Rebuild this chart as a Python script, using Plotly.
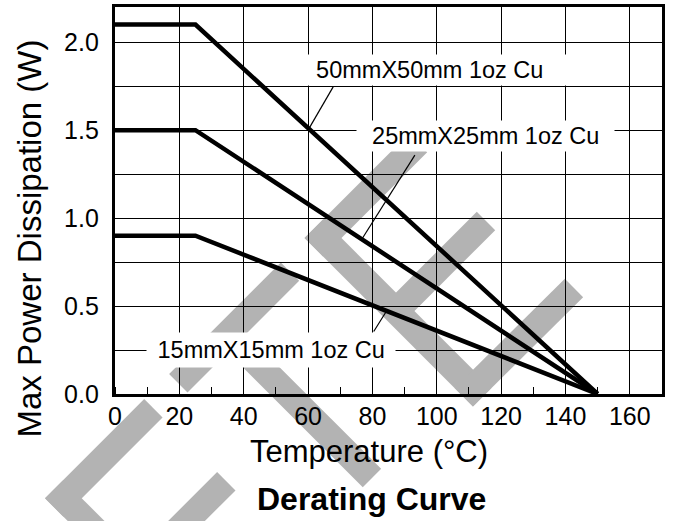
import plotly.graph_objects as go

# ---------------- data ----------------
temp_c = [0, 25, 150]
p_50mm = [2.1, 2.1, 0.0]
p_25mm = [1.5, 1.5, 0.0]
p_15mm = [0.9, 0.9, 0.0]

label_names = ["50mmX50mm 1oz Cu", "25mmX25mm 1oz Cu", "15mmX15mm 1oz Cu"]
label_x = [97.6, 115.0, 48.4]
label_y = [1.84, 1.467, 0.25]

# leader lines from the curves to their labels
leader_50_x = [60.0, 67.8]
leader_50_y = [1.5, 1.746]
leader_25_x = [76.7, 93.2]
leader_25_y = [0.88, 1.358]
leader_15_x = [84.4, 80.4]
leader_15_y = [0.472, 0.355]

x_ticks = [0, 20, 40, 60, 80, 100, 120, 140, 160]
y_ticks = [0.0, 0.5, 1.0, 1.5, 2.0]

FONT = "Arial, Liberation Sans, Helvetica, sans-serif"

fig = go.Figure()

# ---------------- watermark (decoration, pixel geometry -> paper) ----------------
PL, PR, PT, PB = 115, 662, 7, 394
BAND_W = 26
GREY = "#b3b3b3"


def to_paper(px, py):
    return (px - PL) / (PR - PL), (PB - py) / (PB - PT)


def band(p, q, ext_p=0.0, ext_q=0.0):
    dx, dy = q[0] - p[0], q[1] - p[1]
    L = (dx * dx + dy * dy) ** 0.5
    ux, uy = dx / L, dy / L
    nx, ny = -uy, ux
    p2 = (p[0] - ux * ext_p, p[1] - uy * ext_p)
    q2 = (q[0] + ux * ext_q, q[1] + uy * ext_q)
    h = BAND_W / 2
    pts = [(p2[0] + nx * h, p2[1] + ny * h), (q2[0] + nx * h, q2[1] + ny * h),
           (q2[0] - nx * h, q2[1] - ny * h), (p2[0] - nx * h, p2[1] - ny * h)]
    conv = [to_paper(x, y) for x, y in pts]
    return "M " + " L ".join(f"{x:.4f},{y:.4f}" for x, y in conv) + " Z"


e = BAND_W / 2
wm = []
# lower-left "E"
c1 = (63.4, 498.3)
wm.append(band(c1, (213.4, 648.3), e, e))
wm.append(band(c1, (153.4, 408.3), e, 0))
wm.append(band((136.3, 571.2), (226.3, 481.2)))
wm.append(band((213.4, 648.3), (303.4, 558.3), e, 0))
# "T"
wm.append(band((178.3, 383.3), (290.0, 271.6)))
wm.append(band((227.8, 333.8), (372.0, 478.0)))
# upper "E"
c2 = (323.0, 238.0)
wm.append(band(c2, (473.0, 388.0), e, e))
wm.append(band(c2, (418.0, 143.0), e, 0))
wm.append(band((396.0, 311.0), (486.0, 221.0)))
wm.append(band((473.0, 388.0), (574.0, 288.0), e, 0))

for path in wm:
    fig.add_shape(type="path", path=path, xref="paper", yref="paper",
                  fillcolor=GREY, line=dict(width=0), layer="below")

# ---------------- curves ----------------
for ys in (p_50mm, p_25mm, p_15mm):
    fig.add_trace(go.Scatter(x=temp_c, y=ys, mode="lines",
                             line=dict(color="black", width=4.5),
                             showlegend=False, hoverinfo="skip"))

for lx, ly in ((leader_50_x, leader_50_y), (leader_25_x, leader_25_y),
               (leader_15_x, leader_15_y)):
    fig.add_trace(go.Scatter(x=lx, y=ly, mode="lines",
                             line=dict(color="black", width=1.2),
                             showlegend=False, hoverinfo="skip"))

# ---------------- labels ----------------
NB = "&nbsp;"
pads = [(4, 2), (2, 2), (1, 4)]
for name, x, y, (nb, bp) in zip(label_names, label_x, label_y, pads):
    fig.add_annotation(x=x, y=y, xref="x", yref="y",
                       text=NB * nb + name + NB * nb, showarrow=False,
                       bgcolor="white", borderpad=bp,
                       font=dict(family=FONT, size=23.5, color="black"),
                       xanchor="center", yanchor="middle")

fig.add_annotation(text="Temperature (°C)", xref="paper", yref="paper",
                   x=to_paper(368.5, 0)[0], y=to_paper(0, 451.5)[1],
                   showarrow=False, xanchor="center", yanchor="middle",
                   font=dict(family=FONT, size=31, color="black"))
fig.add_annotation(text="Max Power Dissipation (W)", xref="paper", yref="paper",
                   x=to_paper(28.5, 0)[0], y=to_paper(0, 239)[1], textangle=-90,
                   showarrow=False, xanchor="center", yanchor="middle",
                   font=dict(family=FONT, size=33, color="black"))
fig.add_annotation(text="<b>Derating Curve</b>", xref="paper", yref="paper",
                   x=to_paper(371, 0)[0], y=to_paper(0, 499)[1],
                   showarrow=False, xanchor="center", yanchor="middle",
                   font=dict(family=FONT, size=32, color="black"))

# ---------------- axes ----------------
fig.update_xaxes(range=[0, 170], tickvals=x_ticks, ticktext=[str(v) for v in x_ticks],
                 showgrid=True, gridcolor="black", gridwidth=1.3,
                 showline=True, linecolor="black", linewidth=3.3, mirror=True,
                 zeroline=False, ticks="", ticklabelstandoff=-2,
                 tickfont=dict(family=FONT, size=25, color="black"),
                 minor=dict(dtick=10, tick0=0, ticks="inside", ticklen=7,
                            tickwidth=1.3, tickcolor="black", showgrid=False),
                 fixedrange=True)
fig.update_yaxes(range=[0, 2.2], tickvals=y_ticks, ticktext=[f"{v:.1f}" for v in y_ticks],
                 showgrid=True, gridcolor="black", gridwidth=1.3,
                 showline=True, linecolor="black", linewidth=3.3, mirror=True,
                 zeroline=False, ticks="", ticklabelstandoff=8,
                 tickfont=dict(family=FONT, size=25, color="black"),
                 minor=dict(dtick=0.25, tick0=0, showgrid=True,
                            gridcolor="black", gridwidth=1.3),
                 fixedrange=True)

fig.update_layout(width=673, height=521, autosize=False,
                  margin=dict(l=PL, r=673 - PR, t=PT, b=521 - PB, autoexpand=False),
                  paper_bgcolor="white", plot_bgcolor="rgba(0,0,0,0)",
                  showlegend=False)

fig.write_html("out.html")
